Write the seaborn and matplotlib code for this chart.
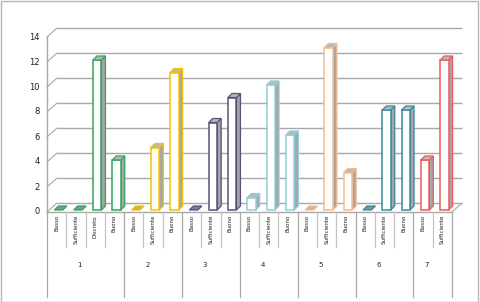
import numpy as np
import pandas as pd
import matplotlib
matplotlib.use("Agg")
import matplotlib.pyplot as plt
import seaborn as sns
from matplotlib.patches import Polygon, Rectangle
from matplotlib.transforms import ScaledTranslation
from matplotlib.colors import to_rgb

# ---------------- data ----------------
groups = ["1", "2", "3", "4", "5", "6", "7"]
group_levels = [
    ["Basso", "Sufficiente", "Discreto", "Buono"],
    ["Basso", "Sufficiente", "Buono"],
    ["Basso", "Sufficiente", "Buono"],
    ["Basso", "Sufficiente", "Buono"],
    ["Basso", "Sufficiente", "Buono"],
    ["Basso", "Sufficiente", "Buono"],
    ["Basso", "Sufficiente"],
]
group_values = [
    [0, 0, 12, 4],
    [0, 5, 11],
    [0, 7, 9],
    [1, 10, 6],
    [0, 13, 3],
    [0, 8, 8],
    [4, 12],
]
group_colors = ["#33a35e", "#f2c200", "#5e4f7e", "#8fcfd8", "#f7bc8c", "#3a8a9c", "#ee5a5a"]
y_ticks = [0, 2, 4, 6, 8, 10, 12, 14]

rows = []
slot = 0
for g, levs, vals in zip(groups, group_levels, group_values):
    for lev, v in zip(levs, vals):
        rows.append({"slot": slot, "group": g, "level": lev, "value": v})
        slot += 1
df = pd.DataFrame(rows)
n = len(df)

# ---------------- figure geometry ----------------
W, H = 480, 302
X0, X1 = 47, 452        # front frame, pixels
Y0 = 212                 # pixel row of value 0 (front)
PPU = 12.5               # pixels per unit
YMAX = 14

fig = plt.figure(figsize=(W / 100, H / 100), dpi=100)
ax = fig.add_axes([X0 / W, (H - Y0) / H, (X1 - X0) / W, YMAX * PPU / H])
ax.set_xlim(-0.5, n - 0.5)
ax.set_ylim(0, YMAX)
ax.axis("off")

ux = n / (X1 - X0)       # data units per pixel (x)
uy = 1 / PPU             # data units per pixel (y)
bx, by = 10 * ux, 9 * uy # back-wall depth
dx, dy = 4 * ux, 4 * uy  # bar depth

grid_c = "#a8a8a8"
# back wall gridlines + diagonals
for v in y_ticks:
    ax.plot([-0.5 + bx, n - 0.5 + bx], [v + by, v + by], color=grid_c, lw=1.0,
            zorder=0, clip_on=False, solid_capstyle="butt")
    ax.plot([-0.5, -0.5 + bx], [v, v + by], color=grid_c, lw=0.8, zorder=0, clip_on=False)
    fig.text(40 / W, (H - (Y0 - v * PPU)) / H, str(v), ha="right", va="center",
             fontsize=6, color="#222222")
# floor
ax.plot([-0.5, n - 0.5], [0, 0], color=grid_c, lw=1.0, zorder=0, clip_on=False)
ax.plot([n - 0.5, n - 0.5 + bx], [0, by], color=grid_c, lw=0.8, zorder=0, clip_on=False)
# left axis
ax.plot([-0.5, -0.5], [0, YMAX], color=grid_c, lw=1.0, zorder=0, clip_on=False)

# ---------------- bars ----------------
pal = dict(zip(groups, group_colors))
sns.barplot(data=df, x="slot", y="value", hue="group", palette=pal, dodge=False,
            width=0.44, legend=False, ax=ax, saturation=1)
ax.set_xlim(-0.5, n - 0.5)
ax.set_ylim(0, YMAX)
ax.axis("off")

bar_tr = ax.transData + ScaledTranslation(2 / 100, 2 / 100, fig.dpi_scale_trans)
side_c = "#a6a6a6"
top_c = "#b8b8b8"
for p in list(ax.patches):
    x, w, h = p.get_x(), p.get_width(), p.get_height()
    col = to_rgb(p.get_facecolor())
    p.set_transform(bar_tr)
    p.set_clip_on(False)
    if h > 0:
        p.set_facecolor("white")
        p.set_edgecolor(col)
        p.set_linewidth(1.1)
        p.set_zorder(3)
        side = Polygon([(x + w, 0), (x + w + dx, dy), (x + w + dx, h + dy), (x + w, h)],
                       closed=True, facecolor=side_c, edgecolor=col, lw=0.9,
                       transform=bar_tr, zorder=2.5, clip_on=False)
        top = Polygon([(x, h), (x + dx, h + dy), (x + w + dx, h + dy), (x + w, h)],
                      closed=True, facecolor=top_c, edgecolor=col, lw=0.9,
                      transform=bar_tr, zorder=3.5, clip_on=False)
        ax.add_patch(side)
        ax.add_patch(top)
    else:
        p.set_visible(False)
        mix = tuple(0.5 * a + 0.5 * b for a, b in zip(col, to_rgb(side_c)))
        flat = Polygon([(x, 0), (x + dx, dy), (x + w + dx, dy), (x + w, 0)],
                       closed=True, facecolor=mix, edgecolor=col, lw=0.9,
                       transform=bar_tr, zorder=3, clip_on=False)
        ax.add_patch(flat)

# ---------------- category table below ----------------
def ypx(p):
    return (Y0 - p) * uy

inner_c = "#c4c4c4"
outer_c = "#a8a8a8"
boundaries = np.cumsum([0] + [len(l) for l in group_levels])
group_edges = set(boundaries.tolist())
for k in range(n + 1):
    xb = k - 0.5
    if k in group_edges:
        ax.plot([xb, xb], [0, ypx(297)], color=outer_c, lw=0.9, clip_on=False, zorder=1)
    else:
        ax.plot([xb, xb], [0, ypx(247)], color=inner_c, lw=0.9, clip_on=False, zorder=1)

for _, r in df.iterrows():
    ax.text(r["slot"], ypx(215), r["level"], rotation=90, ha="center", va="top",
            fontsize=4, color="#222222", clip_on=False)

for gi, g in enumerate(groups):
    c = (boundaries[gi] + boundaries[gi + 1] - 1) / 2 - 0.3
    ax.text(c, ypx(265), g, ha="center", va="center", fontsize=5, color="#222222",
            clip_on=False)

# chart border
fig.add_artist(Rectangle((0.5 / W, 0.5 / H), 1 - 2.5 / W, 1 - 1.5 / H,
                         transform=fig.transFigure, fill=False,
                         edgecolor="#b4b4b4", lw=1.0))

fig.savefig("out.png", dpi=100)
